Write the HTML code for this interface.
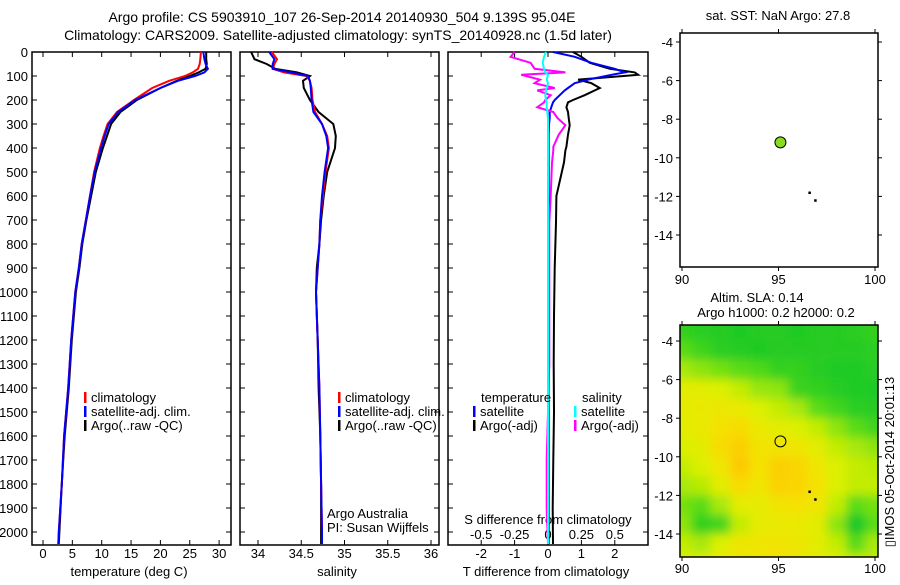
<!DOCTYPE html>
<html><head><meta charset="utf-8"><style>
body{margin:0;background:#fff;width:900px;height:580px;overflow:hidden}
svg{font-family:"Liberation Sans",sans-serif;font-size:13px}
</style></head><body>
<svg id="fig" width="900" height="580" xmlns="http://www.w3.org/2000/svg">
<text x="342" y="22" text-anchor="middle" style="font-size:14px">Argo profile: CS 5903910_107 26-Sep-2014 20140930_504 9.139S 95.04E</text>
<text x="338" y="40" text-anchor="middle" style="font-size:14px">Climatology: CARS2009. Satellite-adjusted climatology: synTS_20140928.nc (1.5d later)</text>
</svg>
<script>
// ---------- data ----------
const depths = [0,30,50,70,85,100,120,150,200,250,300,350,400,500,600,700,800,900,1000,1200,1400,1600,1800,2000,2050];
const tempClim = [26.9,26.8,26.7,26.4,25.5,24.2,21.5,18.6,15.5,12.6,11.0,10.3,9.7,8.7,8.0,7.3,6.6,6.1,5.5,4.8,4.3,3.6,3.2,2.7,2.6];
const tempSat  = [27.3,27.5,27.7,28.1,27.5,25.9,23.0,20.0,15.7,12.8,11.2,10.5,9.9,8.8,8.0,7.3,6.6,6.1,5.5,4.8,4.3,3.6,3.2,2.7,2.6];
const tempArgo = [27.8,27.8,27.9,27.7,26.5,25.0,22.8,20.0,16.0,13.2,11.6,10.9,10.2,9.0,8.2,7.4,6.7,6.2,5.6,4.9,4.4,3.7,3.2,2.8,2.7];
const salClim = [34.16,34.22,34.19,34.17,34.3,34.56,34.6,34.62,34.63,34.66,34.74,34.8,34.82,34.78,34.75,34.72,34.71,34.69,34.67,34.69,34.71,34.72,34.73,34.74,34.74];
const salSat  = [34.13,34.19,34.17,34.17,34.38,34.58,34.6,34.61,34.62,34.64,34.74,34.79,34.81,34.77,34.74,34.72,34.71,34.69,34.67,34.69,34.71,34.72,34.73,34.74,34.74];
const salArgo = [33.92,33.96,34.1,34.2,34.45,34.6,34.52,34.53,34.6,34.7,34.87,34.9,34.89,34.8,34.76,34.73,34.71,34.68,34.67,34.69,34.7,34.72,34.73,34.73,34.73];
const dDepths = [0,20,45,70,85,95,115,130,150,160,180,200,210,230,250,275,305,345,395,410,460,600,710,900,1100,1300,1500,1700,1900,2050];
const dTSat  = [0.15,0.8,1.3,2.0,2.3,1.9,1.2,0.8,0.6,0.5,0.35,0.2,0.15,0.1,0.05,0.05,0.03,0.02,0.02,0.02,0.02,0.02,0.02,0.02,0.02,0.02,0.02,0.02,0.02,0.02];
const dTArgo = [0.75,1.0,1.25,1.85,2.6,2.7,0.9,1.3,1.55,1.4,1.1,0.75,0.6,0.55,0.6,0.62,0.65,0.6,0.55,0.52,0.48,0.25,0.24,0.2,0.18,0.17,0.18,0.16,0.14,0.15];
const dSSat  = [-0.015,-0.03,-0.04,-0.03,-0.02,0.0,-0.01,0.0,-0.01,-0.015,-0.02,-0.015,-0.01,-0.01,-0.005,0,0,0,0,0,0,0,0,0,0,0,0,0,0,0];
const dSArgo = [-0.25,-0.28,-0.13,-0.1,0.13,-0.2,-0.06,-0.1,0.05,-0.08,0.02,-0.02,-0.03,-0.08,0.04,0.07,0.13,0.08,0.04,0.04,0.03,0.02,0.01,0.01,0.01,0.01,0.0,-0.01,-0.01,0.0];
const depthTicks = [0,100,200,300,400,500,600,700,800,900,1000,1100,1200,1300,1400,1500,1600,1700,1800,1900,2000];
const tempTicks = [0,5,10,15,20,25,30];
const salTicks = [34,34.5,35,35.5,36];
const dTTicks = [-2,-1,0,1,2];
const dSTicks = [-0.5,-0.25,0,0.25,0.5];
const lonTicks = [90,95,100];
const latTicks = [-4,-6,-8,-10,-12,-14];
const slaLats = [-3.5,-4.5,-5.5,-6.5,-7.5,-8.5,-9.5,-10.5,-11.5,-12.5,-13.5,-14.5,-15.5];
const slaLons = [90,91,92,93,94,95,96,97,98,99,100];
const slaGrid = [
 [0.15,0.12,0.1,0.08,0.1,0.1,0.08,0.1,0.1,0.12,0.15],
 [0.3,0.2,0.12,0.1,0.08,0.1,0.1,0.1,0.1,0.1,0.12],
 [0.45,0.4,0.35,0.3,0.25,0.15,0.15,0.1,0.08,0.08,0.1],
 [0.6,0.6,0.55,0.5,0.42,0.4,0.18,0.15,0.1,0.08,0.08],
 [0.62,0.65,0.68,0.65,0.55,0.5,0.45,0.3,0.2,0.12,0.1],
 [0.6,0.65,0.75,0.8,0.65,0.6,0.55,0.5,0.4,0.3,0.2],
 [0.55,0.6,0.8,0.9,0.72,0.72,0.7,0.6,0.5,0.45,0.4],
 [0.5,0.55,0.7,0.95,0.75,0.9,0.85,0.7,0.55,0.5,0.48],
 [0.45,0.48,0.6,0.8,0.7,0.88,0.85,0.75,0.55,0.5,0.5],
 [0.35,0.3,0.45,0.6,0.62,0.72,0.75,0.7,0.5,0.3,0.35],
 [0.4,0.15,0.2,0.5,0.62,0.65,0.65,0.6,0.4,0.05,0.3],
 [0.5,0.45,0.55,0.68,0.7,0.72,0.68,0.6,0.5,0.3,0.45],
 [0.55,0.55,0.65,0.7,0.72,0.75,0.7,0.6,0.55,0.5,0.5]];
const argoPos = [95.1,-9.2];
const trackPts = [[96.6,-11.8],[96.9,-12.2]];

// ---------- helpers ----------
const svg=document.getElementById('fig');
const NS='http://www.w3.org/2000/svg';
function mk(tag,attrs,parent){const e=document.createElementNS(NS,tag);for(const k in attrs)e.setAttribute(k,attrs[k]);(parent||svg).appendChild(e);return e;}
function txt(x,y,s,anchor,parent){const t=mk('text',{x:x,y:y,'text-anchor':anchor||'start'},parent);t.textContent=s;return t;}
const yD=d=>52+0.24*d;
const PT={x0:32,x1:231}, PS={x0:240,x1:439}, PD={x0:448,x1:648};
const xT=v=>43+5.87*v, xS=v=>258+86.5*(v-34), xDT=v=>548+33.4*v, xDS=v=>548+133.6*v;

function panel(P,name){
  const g=mk('g',{});
  
  
  mk('rect',{x:P.x0,y:52,width:P.x1-P.x0,height:493,fill:'none',stroke:'#000','stroke-width':1.5},g);
  depthTicks.forEach(d=>{const y=yD(d);
    mk('line',{x1:P.x0,y1:y,x2:P.x0+5,y2:y,stroke:'#000'},g);
    mk('line',{x1:P.x1-5,y1:y,x2:P.x1,y2:y,stroke:'#000'},g);});
  return g;
}
function xticks(g,ticks,f,labelY){
  ticks.forEach(v=>{const x=f(v);
    mk('line',{x1:x,y1:52,x2:x,y2:57,stroke:'#000'},g);
    mk('line',{x1:x,y1:540,x2:x,y2:545,stroke:'#000'},g);
    const t=txt(x,labelY,String(v),'middle',g);
    
    });
}
function line(g,xs,ds,fx,color,name,w){
  const pts=xs.map((v,i)=>fx(v).toFixed(1)+','+yD(ds[i]).toFixed(1)).join(' ');
  const p=mk('polyline',{points:pts,fill:'none',stroke:color,'stroke-width':w||2},g);
  
  
}
function legend(g,x,y,color,label){
  mk('rect',{x:x,y:y-10,width:2.5,height:11,fill:color},g);
  const t=txt(x+7,y,label,'start',g);
  
  
}

// depth labels
const yl=mk('g',{});


depthTicks.forEach(d=>txt(28,yD(d)+5,String(d),'end',yl));

// panel 1 temperature
const g1=panel(PT,'temperature-panel');
xticks(g1,tempTicks,xT,558);
const t1=txt(129,576,'temperature (deg C)','middle',g1);

line(g1,tempArgo,depths,xT,'#000','argo-temperature-line');
line(g1,tempClim,depths,xT,'#f00','climatology-temperature-line');
line(g1,tempSat,depths,xT,'#00f','satellite-temperature-line');
legend(g1,84,402,'#f00','climatology');
legend(g1,84,416,'#00f','satellite-adj. clim.');
legend(g1,84,430,'#000','Argo(..raw -QC)');

// panel 2 salinity
const g2=panel(PS,'salinity-panel');
xticks(g2,salTicks,xS,558);
const t2=txt(337,576,'salinity','middle',g2);

line(g2,salArgo,depths,xS,'#000','argo-salinity-line');
line(g2,salClim,depths,xS,'#f00','climatology-salinity-line');
line(g2,salSat,depths,xS,'#00f','satellite-salinity-line');
legend(g2,338,402,'#f00','climatology');
legend(g2,338,416,'#00f','satellite-adj. clim.');
legend(g2,338,430,'#000','Argo(..raw -QC)');
txt(327,518,'Argo Australia','start',g2);
txt(327,532,'PI: Susan Wijffels','start',g2);

// panel 3 differences
const g3=panel(PD,'difference-panel');
xticks(g3,dTTicks,xDT,558);
dSTicks.forEach(v=>{const t=txt(xDS(v),539,String(v),'middle',g3);
  
  });
txt(548,524,'S difference from climatology','middle',g3);
const t3=txt(546,576,'T difference from climatology','middle',g3);

line(g3,dTArgo,dDepths,xDT,'#000','argo-t-diff-line');
line(g3,dTSat,dDepths,xDT,'#00f','satellite-t-diff-line');
line(g3,dSArgo,dDepths,xDS,'#f0f','argo-s-diff-line');
line(g3,dSSat,dDepths,xDS,'#0ff','satellite-s-diff-line');
txt(481,402,'temperature','start',g3);
txt(582,402,'salinity','start',g3);
legend(g3,473,416,'#00f','satellite');
legend(g3,473,430,'#000','Argo(-adj)');
legend(g3,574,416,'#0ff','satellite');
legend(g3,574,430,'#f0f','Argo(-adj)');

// maps
function mapAxes(top,bottom,lat4y,name){
  const g=mk('g',{});
  
  
  const xL=v=>682+19.3*(v-90), yL=v=>lat4y+19.3*(-4-v);
  return {g,xL,yL,top,bottom};
}
function mapFrame(m,labelY){
  const {g,xL,yL,top,bottom}=m;
  mk('rect',{x:680,y:top,width:198,height:bottom-top,fill:'none',stroke:'#000','stroke-width':1.5},g);
  lonTicks.forEach(v=>{const x=xL(v);
    mk('line',{x1:x,y1:top-4,x2:x,y2:top,stroke:'#000'},g);
    mk('line',{x1:x,y1:bottom,x2:x,y2:bottom+4,stroke:'#000'},g);
    txt(x,labelY,String(v),'middle',g);});
  latTicks.forEach(v=>{const y=yL(v);
    mk('line',{x1:676,y1:y,x2:680,y2:y,stroke:'#000'},g);
    mk('line',{x1:878,y1:y,x2:882,y2:y,stroke:'#000'},g);
    txt(673,y+5,String(v),'end',g);});
  trackPts.forEach(p=>{const r=mk('rect',{x:xL(p[0])-1,y:yL(p[1])-1,width:2.5,height:2.5,fill:'#000'},g);
    
    });
}
const m1=mapAxes(33,267,42,'sst-map');
txt(778,20,'sat. SST: NaN Argo: 27.8','middle',m1.g);
mapFrame(m1,284);
const dot=mk('circle',{cx:m1.xL(argoPos[0]),cy:m1.yL(argoPos[1]),r:5.5,fill:'#88dd22',stroke:'#000','stroke-width':1},m1.g);



const m2=mapAxes(325,557,341,'sla-map');
txt(757,302,'Altim. SLA: 0.14','middle',m2.g);
txt(776,317,'Argo h1000: 0.2 h2000: 0.2','middle',m2.g);
function slaColor(v){
  const stops=[[0,[10,195,40]],[0.3,[90,220,20]],[0.55,[220,240,0]],[0.75,[245,225,0]],[1,[255,195,0]]];
  for(let i=1;i<stops.length;i++){if(v<=stops[i][0]){const a=stops[i-1],b=stops[i],t=(v-a[0])/(b[0]-a[0]);
    return 'rgb('+a[1].map((c,k)=>Math.round(c+(b[1][k]-c)*t)).join(',')+')';}}
  return 'rgb(255,195,0)';
}
const defs=mk('defs',{});
const flt=mk('filter',{id:'blur',x:'-10%',y:'-10%',width:'120%',height:'120%'},defs);
mk('feGaussianBlur',{stdDeviation:5},flt);
const clip=mk('clipPath',{id:'mclip'},defs);
mk('rect',{x:680,y:325,width:198,height:232},clip);
const heat=mk('g',{'clip-path':'url(#mclip)'},m2.g);


const hb=mk('g',{filter:'url(#blur)'},heat);
slaGrid.forEach((row,i)=>row.forEach((v,j)=>{
  const c=mk('rect',{x:m2.xL(slaLons[j])-9.65-10*(j==0),y:m2.yL(slaLats[i])-9.65-10*(i==0),width:19.3+20*(j==0||j==row.length-1),height:19.3+20*(i==0||i==slaGrid.length-1),fill:slaColor(v)},hb);
  
  
}));
mapFrame(m2,573);
const oc=mk('circle',{cx:m2.xL(argoPos[0]),cy:m2.yL(argoPos[1]),r:5.5,fill:'none',stroke:'#000','stroke-width':1},m2.g);


const stamp=txt(0,0,'▯IMOS 05-Oct-2014 20:01:13','middle');
stamp.setAttribute('transform','translate(894,462) rotate(-90)');


</script>
</body></html>
